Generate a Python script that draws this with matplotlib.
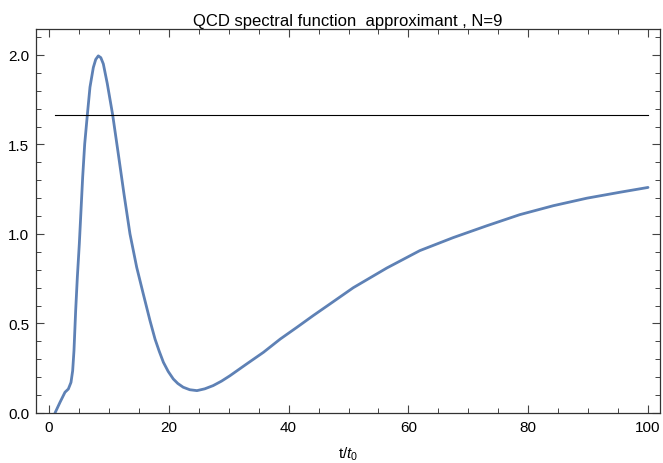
import matplotlib
matplotlib.use("Agg")
import matplotlib.pyplot as plt
from matplotlib.ticker import MultipleLocator, FormatStrFormatter

plt.rcParams['font.family'] = ['Liberation Sans', 'DejaVu Sans']
plt.rcParams['mathtext.fontset'] = 'custom'
plt.rcParams['mathtext.rm'] = 'Liberation Sans'
plt.rcParams['mathtext.it'] = 'Liberation Sans:italic'

title = "QCD spectral function  approximant , N=9"
xlabel = "t/$\\mathit{t}_0$"

t_vals = [1.0, 1.84, 2.67, 3.23, 3.67, 3.95, 4.17, 4.45, 4.73, 5.06, 5.34,
          5.62, 5.96, 6.4, 6.84, 7.4, 7.8, 8.23, 8.65, 9.07, 9.73, 10.63,
          11.57, 12.52, 13.52, 14.64, 15.74, 16.86, 17.7, 18.4, 19.1, 19.9,
          20.75, 21.5, 22.4, 23.5, 24.7, 26.0, 27.4, 28.8, 30.2, 33.0, 35.8,
          38.6, 41.4, 44.1, 46.9, 50.8, 56.4, 61.9, 67.5, 73.1, 78.6, 84.2,
          89.8, 95.3, 100.0]
rho_vals = [0.0, 0.06, 0.116, 0.134, 0.171, 0.236, 0.348, 0.571, 0.758, 0.944,
            1.13, 1.317, 1.503, 1.665, 1.82, 1.93, 1.975, 1.995, 1.985, 1.95,
            1.84, 1.665, 1.447, 1.223, 1.0, 0.814, 0.665, 0.516, 0.413, 0.345,
            0.283, 0.232, 0.19, 0.165, 0.144, 0.13, 0.125, 0.135, 0.153,
            0.178, 0.208, 0.274, 0.339, 0.413, 0.479, 0.544, 0.609, 0.70,
            0.81, 0.907, 0.98, 1.046, 1.108, 1.158, 1.20, 1.233, 1.26]
asym_t = [1.0, 100.0]
asym_level = 5.0 / 3.0

fig = plt.figure(figsize=(6.63, 4.64), dpi=100)
ax = fig.add_axes([36 / 663, 1 - 414 / 464, (660 - 36) / 663, (414 - 30) / 464])

ax.plot(t_vals, rho_vals, color='#5E81B5', lw=2.0, solid_joinstyle='round',
        solid_capstyle='round')
ax.plot(asym_t, [asym_level, asym_level], color='black', lw=0.8)

ax.set_xlim(-2.17, 102.0)
ax.set_ylim(0, 2.145)
ax.xaxis.set_major_locator(MultipleLocator(20))
ax.xaxis.set_minor_locator(MultipleLocator(5))
ax.yaxis.set_major_locator(MultipleLocator(0.5))
ax.yaxis.set_minor_locator(MultipleLocator(0.1))
ax.yaxis.set_major_formatter(FormatStrFormatter('%.1f'))

ax.tick_params(which='both', direction='in', top=True, right=True,
               color='#444444', labelsize=11, labelcolor='black')
ax.tick_params(which='major', length=6, width=0.8, pad=5)
ax.tick_params(which='minor', length=3.5, width=0.7)
for s in ax.spines.values():
    s.set_color('#333333')
    s.set_linewidth(0.9)

ax.set_title(title, fontsize=12, pad=3)
ax.set_xlabel(xlabel, fontsize=11, labelpad=8)

fig.savefig('out.png', dpi=100)
